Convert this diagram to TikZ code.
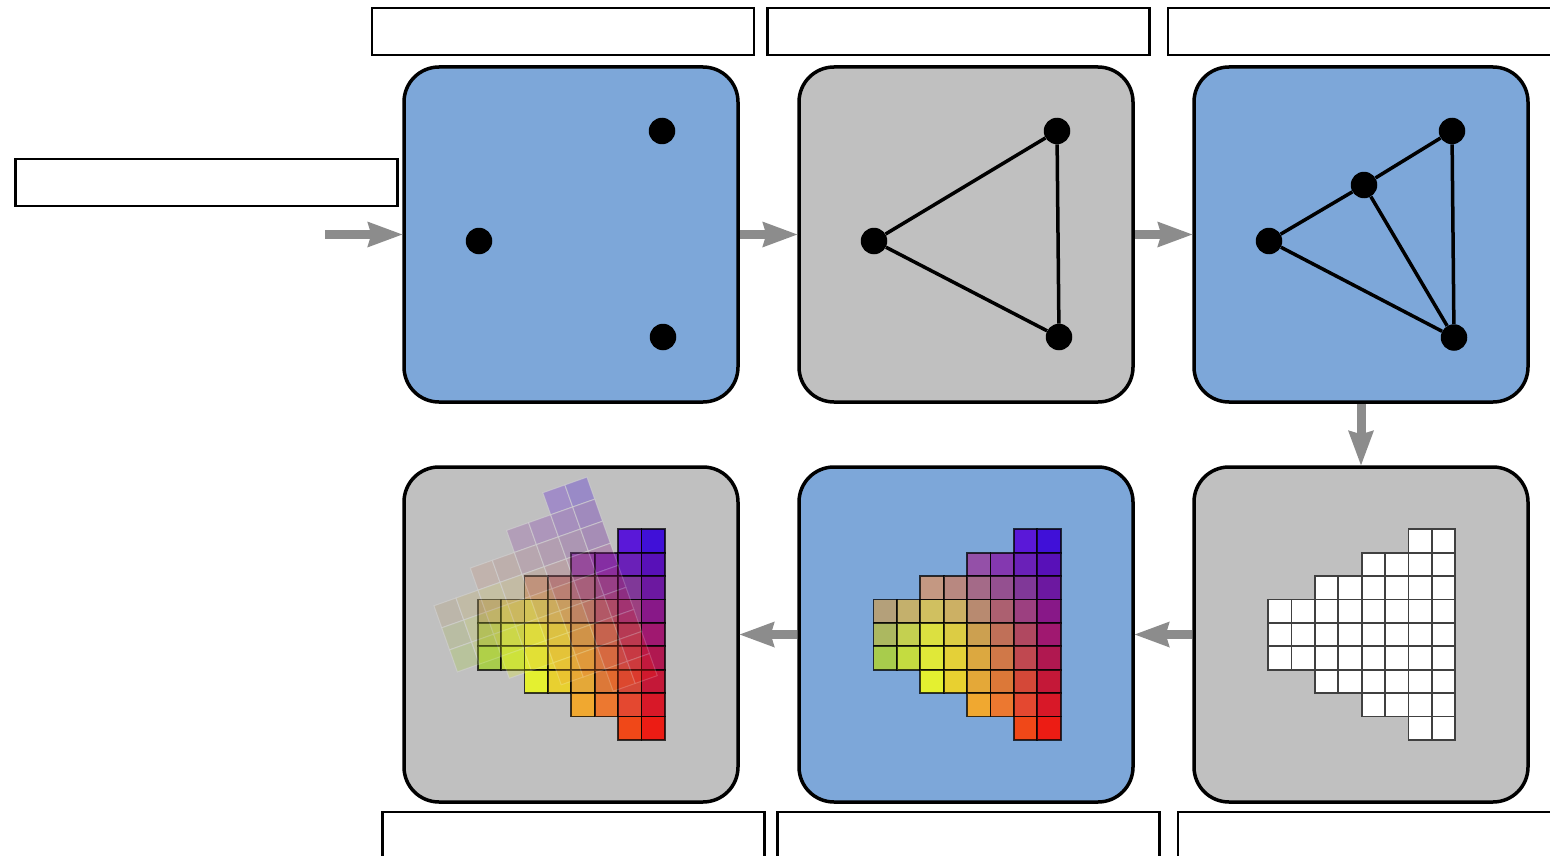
\documentclass[tikz,border=0pt]{standalone}
\usetikzlibrary{arrows.meta}
\definecolor{pblue}{HTML}{7DA7D9}
\definecolor{pgray}{HTML}{C0C0C0}
\definecolor{agray}{HTML}{8C8C8C}
\tikzset{
  panel/.style={draw=black, line width=3.5pt, rounded corners=35pt, minimum width=334pt, minimum height=335pt, inner sep=0pt},
  labelbox/.style={draw=black, fill=white, line width=2.5pt, minimum width=382pt, minimum height=47pt, inner sep=0pt},
  dot/.style={circle, fill=black, minimum size=26.5pt, inner sep=0pt},
  edge/.style={line width=3.5pt},
  flow/.style={draw=agray, line width=9pt, -{Stealth[length=35pt,width=26pt,inset=4pt,line width=0pt]}},
  colcell/.style={draw=black, draw opacity=0.75, line width=1.8pt},
  whitecell/.style={fill=white, draw=black!75, line width=1.8pt},
  fadecell/.style={draw=white, draw opacity=0.6, line width=1pt},
}
\newcommand\cellcolors{6/0/5A18D8, 7/0/4010D8,
4/1/9450A8, 5/1/8438B0, 6/1/6A20B8, 7/1/5810B8,
2/2/C49882, 3/2/B88880, 4/2/A46A88, 5/2/945090, 6/2/803898, 7/2/6C18A0,
0/3/B4A07A, 1/3/C4B06C, 2/3/D0C060, 3/3/CCB064, 4/3/B88A70, 5/3/AC6070, 6/3/9C4080, 7/3/881888,
0/4/ACB860, 1/4/C4D050, 2/4/DCE040, 3/4/DCCC44, 4/4/CCA050, 5/4/C07058, 6/4/B04860, 7/4/A01870,
0/5/A8CC4C, 1/5/C4DC40, 2/5/E0E838, 3/5/E4D038, 4/5/DCA840, 5/5/D07848, 6/5/C04850, 7/5/B01850,
2/6/E4F030, 3/6/E8D030, 4/6/E4A838, 5/6/DC7838, 6/6/D44838, 7/6/C41838,
4/7/F0A830, 5/7/EC7830, 6/7/E44830, 7/7/D81828,
6/8/F04818, 7/8/EC1C14}
\newcommand\cellsize{23.4}
\newcommand\colorgrid[1]{%
  \foreach \c/\r/\h in \cellcolors {%
    \definecolor{cc}{HTML}{\h}%
    \path[fill=cc, #1] (\c*\cellsize, \r*\cellsize) rectangle ++(\cellsize,\cellsize);
  }%
}
\begin{document}
\begin{tikzpicture}[x=1pt, y=-1pt]
\clip (0,0) rectangle (1550,856);
\fill[white] (0,0) rectangle (1550,856);

% label boxes
\node[labelbox] (t1) at (563,31.5) {};
\node[labelbox] (t2) at (958.5,31.5) {};
\node[labelbox, minimum width=392pt] (t3) at (1364,31.5) {};
\node[labelbox] (lin) at (206.5,182.5) {};
\node[labelbox] (b1) at (573.5,835.5) {};
\node[labelbox] (b2) at (968.5,835.5) {};
\node[labelbox, minimum width=392pt] (b3) at (1374,835.5) {};

% panels
\node[panel, fill=pblue] (p1) at (571,234.5) {};
\node[panel, fill=pgray] (p2) at (966,234.5) {};
\node[panel, fill=pblue] (p3) at (1361,234.5) {};
\node[panel, fill=pgray] (p4) at (571,634.5) {};
\node[panel, fill=pblue] (p5) at (966,634.5) {};
\node[panel, fill=pgray] (p6) at (1361,634.5) {};

% arrows
\coordinate (start) at (325,234.5);
\draw[flow] (start) -- (p1.west);
\draw[flow] (p1.east) -- (p2.west);
\draw[flow] (p2.east) -- (p3.west);
\draw[flow] (p3.south) -- (p6.north);
\draw[flow] (p6.west) -- (p5.east);
\draw[flow] (p5.west) -- (p4.east);

% panel 1 points
\node[dot] (a1) at (662,131) {};
\node[dot] (a2) at (479,241) {};
\node[dot] (a3) at (663,337) {};

% panel 2 triangle
\node[dot] (b1p) at (1057,131) {};
\node[dot] (b2p) at (874,241) {};
\node[dot] (b3p) at (1059,337) {};
\draw[edge] (b2p) -- (b1p) -- (b3p) -- (b2p);

% panel 3 subdivided triangle
\node[dot] (c1) at (1452,131) {};
\node[dot] (c2) at (1269,241) {};
\node[dot] (c3) at (1454,337.5) {};
\node[dot] (c4) at (1364,185) {};
\draw[edge] (c2) -- (c4) -- (c1) -- (c3) -- (c2);
\draw[edge] (c4) -- (c3);

% panel 6 white grid
\begin{scope}[shift={(1268,529.3)}]
  \foreach \c/\r/\h in \cellcolors {
    \path[whitecell] (\c*\cellsize, \r*\cellsize) rectangle ++(\cellsize,\cellsize);
  }
\end{scope}

% panel 5 coloured grid
\begin{scope}[shift={(873.5,529.3)}]
  \colorgrid{colcell}
\end{scope}

% panel 4 coloured grid with rotated faded copy
\begin{scope}[shift={(477.7,529.3)}]
  \colorgrid{colcell}
\end{scope}
\begin{scope}[rotate around={19.5:(474,730)}]
  \begin{scope}[transparency group, opacity=0.3]
    \begin{scope}[shift={(477.7,529.3)}]
      \colorgrid{fadecell}
    \end{scope}
  \end{scope}
\end{scope}
\end{tikzpicture}
\end{document}
